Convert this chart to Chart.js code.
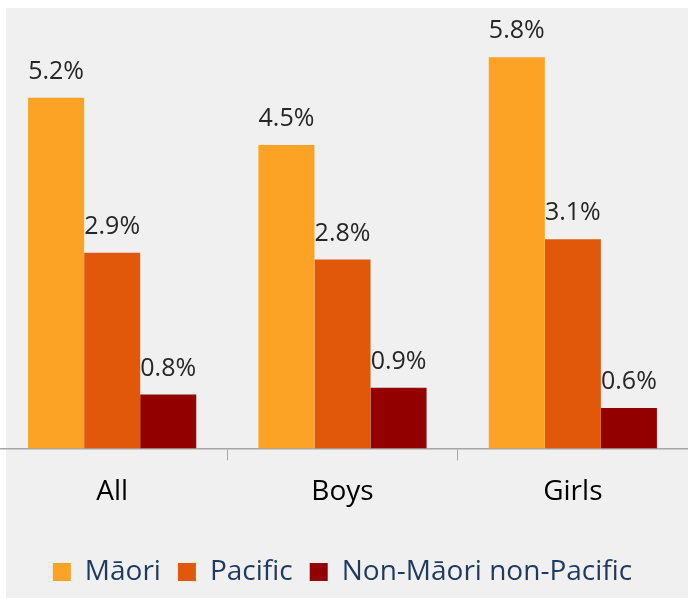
<!doctype html>
<html lang="en">
<head>
<meta charset="utf-8">
<title>Chart</title>
<script src="https://cdn.jsdelivr.net/npm/chart.js@4.4.1/dist/chart.umd.min.js"></script>
<style>
  html, body { margin: 0; padding: 0; background: #ffffff; }
  #bg { position: absolute; left: 6px; top: 8px; width: 682px; height: 590px; background: #f0f0f0; }
  #chartContainer { position: absolute; left: -3px; top: 0; width: 691px; height: 599px; }
</style>
</head>
<body>
<div id="bg"></div>
<div id="chartContainer"><canvas id="myChart"></canvas></div>
<script>
  // categories and series
  const categories = ['All', 'Boys', 'Girls'];
  const maori = [5.2, 4.5, 5.8];
  const pacific = [2.9, 2.8, 3.1];
  const nonMaoriPacific = [0.8, 0.9, 0.6];

  const fontFamily = '"Open Sans", "Liberation Sans", sans-serif';

  // draws the % value above each bar
  const valueLabels = {
    id: 'valueLabels',
    afterDatasetsDraw(chart) {
      const ctx = chart.ctx;
      ctx.save();
      ctx.font = '25px ' + fontFamily;
      ctx.fillStyle = '#262626';
      ctx.textAlign = 'center';
      ctx.textBaseline = 'middle';
      chart.data.datasets.forEach((ds, i) => {
        chart.getDatasetMeta(i).data.forEach((bar, j) => {
          ctx.fillText(ds.data[j].toFixed(1) + '%', bar.x, bar.y - 26);
        });
      });
      ctx.restore();
    }
  };

  new Chart(document.getElementById('myChart'), {
    type: 'bar',
    data: {
      labels: categories,
      datasets: [
        { label: 'Māori', data: maori, backgroundColor: '#fca326' },
        { label: 'Pacific', data: pacific, backgroundColor: '#e2580b' },
        { label: 'Non-Māori non-Pacific', data: nonMaoriPacific, backgroundColor: '#930000' }
      ]
    },
    options: {
      responsive: true,
      maintainAspectRatio: false,
      animation: false,
      categoryPercentage: 0.73,
      barPercentage: 1,
      layout: { padding: { top: 10, left: 0, right: 0, bottom: 3 } },
      plugins: {
        tooltip: { enabled: false },
        legend: {
          position: 'bottom',
          labels: {
            boxWidth: 18,
            boxHeight: 18,
            padding: 17,
            color: '#1f3a5f',
            font: { family: fontFamily, size: 28 }
          }
        }
      },
      scales: {
        x: {
          grid: { display: true, drawOnChartArea: false, drawTicks: true, tickLength: 12, color: '#a6a6a6', offset: true },
          border: { display: true, color: '#a6a6a6', width: 1.5 },
          ticks: { color: '#000000', padding: 15, font: { family: fontFamily, size: 28 } },
          // extra gap between the category labels and the legend
          afterFit: (scale) => { scale.height += 17; }
        },
        y: {
          display: false,
          min: 0,
          max: 6.5
        }
      }
    },
    plugins: [valueLabels]
  });
</script>
</body>
</html>
